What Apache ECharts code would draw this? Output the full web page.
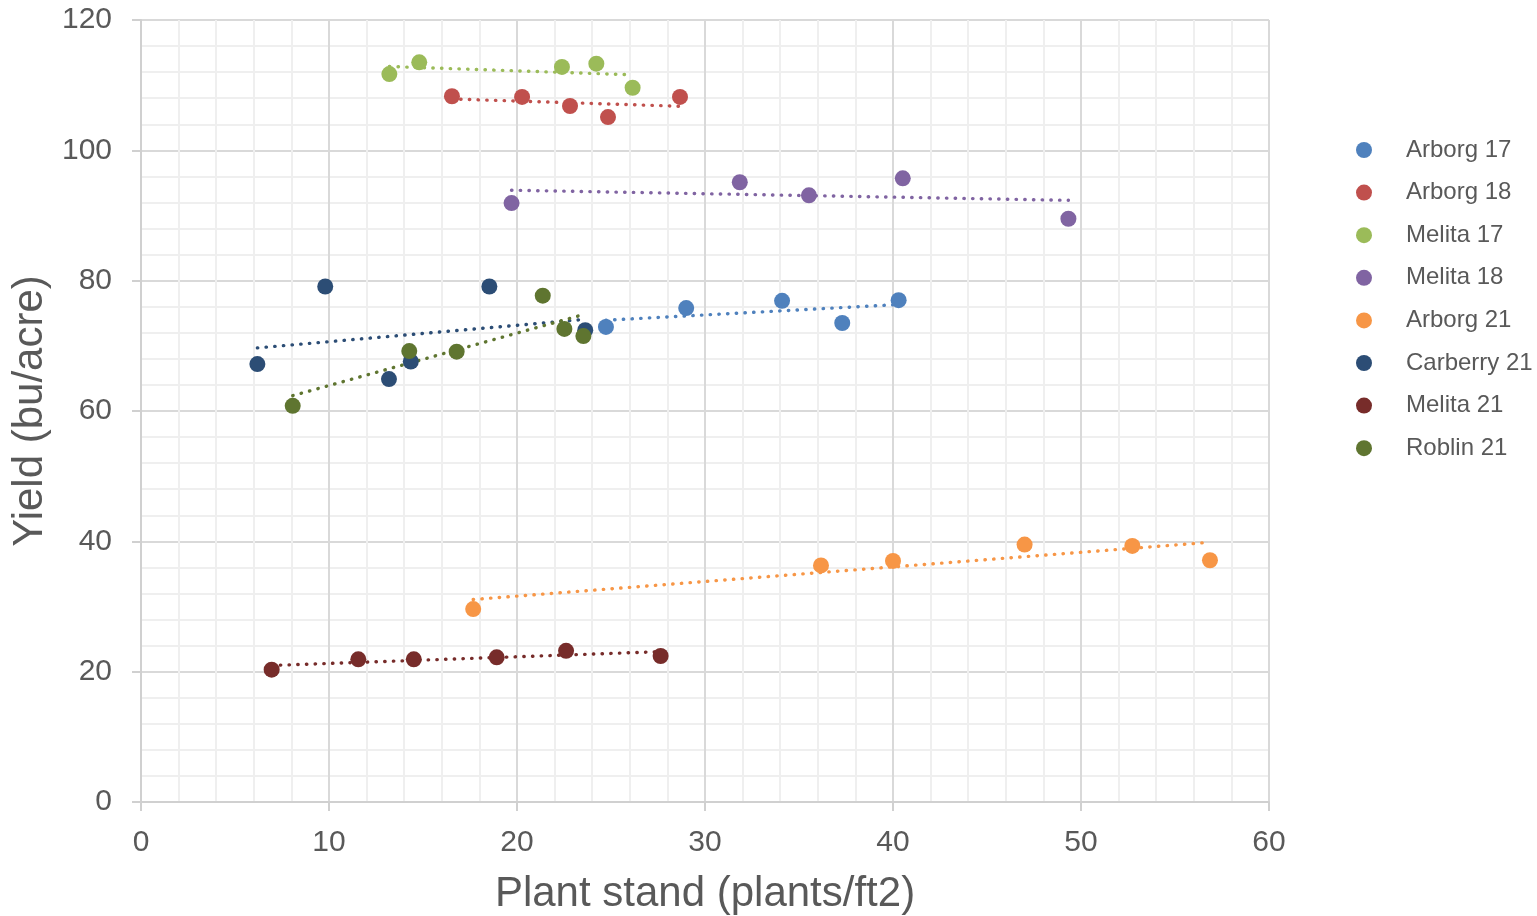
<!DOCTYPE html>
<html>
<head>
<meta charset="utf-8">
<script src="https://cdn.jsdelivr.net/npm/echarts@6/dist/echarts.min.js"></script>
<style>
html,body{margin:0;padding:0;background:#fff;}
#chart{width:1537px;height:916px;}
</style>
</head>
<body>
<div id="chart"></div>
<script>
// ---- Data (plant stand, yield) ----
const seriesNames = ["Arborg 17","Arborg 18","Melita 17","Melita 18","Arborg 21","Carberry 21","Melita 21","Roblin 21"];
const arborg17 = [[24.73,72.9],[29.0,75.8],[34.1,76.9],[37.3,73.5],[40.3,77.0]];
const arborg18 = [[16.54,108.3],[20.27,108.2],[22.82,106.8],[24.84,105.1],[28.67,108.2]];
const melita17 = [[13.21,111.7],[14.80,113.5],[22.39,112.8],[24.22,113.3],[26.15,109.6]];
const melita18 = [[19.71,91.9],[31.85,95.1],[35.53,93.1],[40.52,95.7],[49.33,89.5]];
const arborg21 = [[17.67,29.6],[36.17,36.3],[40.0,37.0],[47.0,39.5],[52.73,39.3],[56.86,37.1]];
const carberry21 = [[6.19,67.2],[9.80,79.1],[13.19,64.9],[14.35,67.6],[18.53,79.1],[23.63,72.4]];
const melita21 = [[6.95,20.3],[11.56,21.9],[14.51,21.9],[18.92,22.2],[22.61,23.2],[27.64,22.4]];
const roblin21 = [[8.07,60.8],[14.27,69.2],[16.79,69.1],[21.37,77.7],[22.52,72.6],[23.53,71.5]];
const xTicks = [0,10,20,30,40,50,60];
const yTicks = [0,20,40,60,80,100,120];

const allData = [arborg17,arborg18,melita17,melita18,arborg21,carberry21,melita21,roblin21];
const colors = ["#4F81BD","#C0504D","#9BBB59","#8064A2","#F79646","#2C4D75","#772C2A","#5F7530"];

// linear regression trend line spanning the data's x range
function trend(pts){
  const n = pts.length;
  let sx=0, sy=0, sxx=0, sxy=0;
  pts.forEach(p=>{sx+=p[0]; sy+=p[1]; sxx+=p[0]*p[0]; sxy+=p[0]*p[1];});
  const b = (n*sxy - sx*sy)/(n*sxx - sx*sx);
  const a = (sy - b*sx)/n;
  const xs = pts.map(p=>p[0]);
  const x0 = Math.min(...xs), x1 = Math.max(...xs);
  return [[x0, a+b*x0],[x1, a+b*x1]];
}

const FONT = "Liberation Sans, Arial, sans-serif";
const TXT = "#595959";

const series = [];
allData.forEach((d,i)=>{
  series.push({
    name: seriesNames[i], type:'scatter', data:d, symbol:'circle', symbolSize:16,
    itemStyle:{color:colors[i], opacity:1}, z:3
  });
});
allData.forEach((d,i)=>{
  series.push({
    name: seriesNames[i]+' trend', type:'line', data:trend(d), symbol:'none',
    lineStyle:{color:colors[i], width:3.4, type:[0.4,8.3], cap:'round'}, z:2, silent:true
  });
});

const chart = echarts.init(document.getElementById('chart'));
chart.setOption({
  animation:false,
  backgroundColor:'#fff',
  grid:{left:141, right:268, top:20, bottom:114, containLabel:false, outerBoundsMode:'none'},
  legend:{
    data: seriesNames.map((n,i)=>({name:n, icon:'circle', itemStyle:{color:colors[i], opacity:1}})),
    orient:'vertical', left:1351, top:133, itemWidth:16, itemHeight:16, itemGap:18.6,
    textStyle:{fontFamily:FONT, fontSize:24, lineHeight:24, color:TXT, padding:[0,0,0,29]}
  },
  xAxis:{
    type:'value', min:xTicks[0], max:xTicks[xTicks.length-1], interval:10,
    name:'Plant stand (plants/ft2)', nameLocation:'middle', nameGap:71,
    nameTextStyle:{fontFamily:FONT, fontSize:42, color:TXT},
    axisLine:{lineStyle:{color:'#d0d0d0', width:2}},
    axisTick:{show:true, length:9, lineStyle:{color:'#d0d0d0', width:2}},
    axisLabel:{fontFamily:FONT, fontSize:30, color:TXT, margin:26},
    splitLine:{show:true, lineStyle:{color:'#d9d9d9', width:2}},
    minorTick:{show:false, splitNumber:5},
    minorSplitLine:{show:true, lineStyle:{color:'#efefef', width:2}}
  },
  yAxis:{
    type:'value', min:yTicks[0], max:yTicks[yTicks.length-1], interval:20,
    name:'Yield (bu/acre)', nameLocation:'middle', nameGap:87,
    nameTextStyle:{fontFamily:FONT, fontSize:42, color:TXT},
    axisLine:{show:true, lineStyle:{color:'#d0d0d0', width:2}},
    axisTick:{show:true, length:9, lineStyle:{color:'#d0d0d0', width:2}},
    axisLabel:{fontFamily:FONT, fontSize:30, color:TXT, margin:29},
    splitLine:{show:true, lineStyle:{color:'#d9d9d9', width:2}},
    minorTick:{show:false, splitNumber:5},
    minorSplitLine:{show:true, lineStyle:{color:'#efefef', width:2}}
  },
  series: series
});
</script>
</body>
</html>
